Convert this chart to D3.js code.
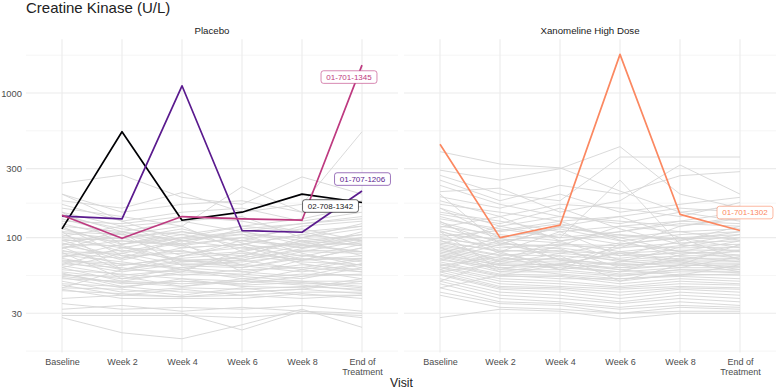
<!DOCTYPE html>
<html><head><meta charset="utf-8">
<script src="https://cdn.jsdelivr.net/npm/d3@7"></script>
<style>body{margin:0;background:#fff;} text{font-family:"Liberation Sans",Arial,sans-serif;}</style>
</head><body>
<script>
// ---------- DATA ----------
const visits = ["Baseline","Week 2","Week 4","Week 6","Week 8","End of Treatment"];
const visitTickLabels = [["Baseline"],["Week 2"],["Week 4"],["Week 6"],["Week 8"],["End of","Treatment"]];
const yBreaks = [30,100,300,1000];
const arms = ["Placebo","Xanomeline High Dose"];

const placeboGray = [
 [238,271,190,170,263,200],[200,150,170,180,150,175],[180,160,205,150,170,540],[170,130,150,160,130,150],
 [160,140,120,225,150,180],[150,120,130,110,125,140],[140,115,105,120,135,165],[130,125,140,130,110,120],
 [125,100,110,95,120,130],[120,110,95,105,100,115],[115,90,100,110,95,105],[110,105,85,90,105,95],
 [105,80,95,85,90,100],[100,95,90,100,85,110],[98,85,80,75,95,88],[95,100,75,80,70,85],
 [92,70,85,90,80,78],[90,88,70,72,88,92],[88,75,78,85,75,70],[85,95,88,70,82,80],
 [82,65,72,78,70,75],[80,78,65,68,76,68],[78,72,82,65,62,72],[76,68,60,75,68,65],
 [74,82,70,62,72,62],[72,60,68,70,60,70],[70,66,62,58,65,60],[68,58,66,64,58,66],
 [66,62,55,60,62,58],[64,55,60,52,56,55],[62,50,58,56,52,62],[60,56,52,50,60,52],
 [58,52,56,54,50,50],[56,48,50,48,54,56],[55,54,46,52,48,48],[53,45,52,46,45,52],
 [52,50,48,50,50,46],[50,42,45,44,46,44],[48,46,42,42,44,50],[47,40,44,40,42,42],
 [45,44,40,45,40,40],[44,38,38,38,41,38],[43,41,39,40,38,40],[57,46,50,47,49,45],
 [38,40,39,42,44,41],[54,49,46,50,47,43],[35,32,33,32,34,31],[32,34,31,33,31,30],
 [30,30,30,23,31,28],[28,22,20,25,32,24],[29,29,29,28,30,29],[110,60,75,90,105,120],
 [150,90,110,95,85,100],[65,85,100,120,110,90],[90,110,130,140,100,125],[45,60,70,65,80,95],
 [120,75,60,55,70,85],[200,130,95,110,90,80],
 [135,105,120,80,95,75],[102,120,90,115,125,135],[86,60,58,82,92,105],[73,90,105,88,66,58],
 [118,86,68,74,100,88],[62,78,92,58,54,66],[96,72,98,106,78,64],[145,110,88,100,115,95],
 [79,52,62,70,84,98],[108,98,115,92,70,72],[69,64,74,96,88,80],[84,108,64,62,74,90]
];
const xanoGray = [
 [393,323,304,210,150,130],[293,250,300,426,200,160],[270,200,180,361,361,361],[250,180,230,200,268,286],
 [208,220,150,180,318,200],[192,160,200,150,170,190],[180,140,170,160,140,175],[170,150,130,140,160,150],
 [160,120,140,130,120,140],[150,130,110,120,130,125],[140,110,125,100,110,115],[135,115,100,110,125,120],
 [128,100,115,95,105,110],[120,105,95,105,98,100],[115,95,105,90,100,105],[110,90,88,85,92,95],
 [105,98,92,80,88,90],[100,85,90,88,85,86],[98,88,80,78,82,82],[95,80,85,75,78,80],
 [92,82,78,72,80,76],[90,76,75,70,75,75],[88,75,82,68,72,72],[86,72,70,66,70,70],
 [84,70,72,64,68,68],[82,68,68,65,66,66],[80,66,65,62,64,65],[78,64,66,60,65,63],
 [76,65,62,58,62,62],[75,62,64,56,60,60],[74,60,60,55,58,58],[72,58,58,54,60,57],
 [70,62,56,52,55,56],[68,56,55,50,56,55],[66,55,52,52,54,52],[65,54,54,48,52,50],
 [63,52,50,46,50,48],[62,50,48,45,48,47],[60,48,46,44,46,45],[58,46,45,42,45,44],
 [56,45,44,40,44,42],[55,44,42,38,42,40],[52,42,40,36,40,38],[50,40,38,35,38,36],
 [48,38,36,33,36,34],[45,36,35,32,34,33],[42,35,34,30,33,32],[40,33,32,30,31,31],
 [28,32,31,27.5,30,30],[130,80,60,90,100,70],[70,90,120,140,100,85],[110,60,75,50,65,90],
 [50,70,95,110,130,150],[160,100,70,60,55,65],[90,120,100,250,90,80],[60,80,110,75,95,120],
 [45,55,65,80,70,60],[200,90,120,100,80,95],
 [145,125,160,115,90,105],[118,140,95,70,62,74],[96,68,88,120,110,96],[74,95,70,85,120,135],
 [86,58,66,78,68,58],[102,112,130,96,74,68],[64,74,60,68,86,100],[125,92,84,62,70,82],
 [230,170,140,125,150,165],[58,66,78,92,80,72],[112,78,64,58,76,88],[78,100,118,104,96,110]
];
const placeboHiIds = ["02-708-1342","01-707-1206","01-701-1345"];
const placeboHiValues = [
 [115,540,132,150,200,175],
 [141,135,1122,112,109,210],
 [143,99,140,135,132,1560]
];
const xanoHiIds = ["01-701-1302"];
const xanoHiValues = [
 [442,100,122,1850,145,112]
];

// ---------- LAYOUT / STYLE ----------
const W = 777, H = 389;
const colors = {"02-708-1342":"#000004","01-707-1206":"#5A1A8E","01-701-1345":"#BE3A80","01-701-1302":"#FB8861"};
const textColors = {"02-708-1342":"#1a1a1a","01-707-1206":"#5A1A8E","01-701-1345":"#BE3A80","01-701-1302":"#FB8861"};
const labelOffsets = {"01-701-1345":[-13,12],"01-707-1206":[0.5,-12],"02-708-1342":[-31.5,3.5],"01-701-1302":[5,-18]};
const panelTop = 39.2, panelBottom = 352.4;
const panels = [
  {name:arms[0], x0:26, x1:398, gray:placeboGray, ids:placeboHiIds, vals:placeboHiValues},
  {name:arms[1], x0:404, x1:776, gray:xanoGray, ids:xanoHiIds, vals:xanoHiValues}
];

const svg = d3.select("body").append("svg").attr("width",W).attr("height",H);
const y = d3.scaleLog().domain([16.1,2355]).range([panelBottom,panelTop]);

// minor breaks: midpoints in log space (ggplot style, extended one step)
const lb = yBreaks.map(Math.log10);
const ext = [lb[0]-(lb[1]-lb[0]), ...lb, lb[lb.length-1]+(lb[lb.length-1]-lb[lb.length-2])];
const minor = [];
for (let i=0;i<ext.length-1;i++){ const m = Math.pow(10,(ext[i]+ext[i+1])/2); if (y(m)>=panelTop-0.5 && y(m)<=panelBottom+0.5) minor.push(m); }

svg.append("text").attr("x",26).attr("y",13).attr("font-size",15).attr("fill","#222").text("Creatine Kinase (U/L)");

panels.forEach((p,pi)=>{
  const x = d3.scalePoint().domain(visits).range([p.x0,p.x1]).padding(0.6);
  const g = svg.append("g");
  g.selectAll(".minor").data(minor).join("line")
    .attr("x1",p.x0).attr("x2",p.x1).attr("y1",d=>y(d)).attr("y2",d=>y(d))
    .attr("stroke","#eeeeee").attr("stroke-width",0.6);
  g.selectAll(".major").data(yBreaks).join("line")
    .attr("x1",p.x0).attr("x2",p.x1).attr("y1",d=>y(d)).attr("y2",d=>y(d))
    .attr("stroke","#ebebeb").attr("stroke-width",1.1);
  g.selectAll(".vg").data(visits).join("line")
    .attr("x1",d=>x(d)).attr("x2",d=>x(d)).attr("y1",panelTop).attr("y2",panelBottom)
    .attr("stroke","#ebebeb").attr("stroke-width",1.1);
  g.append("text").attr("x",(p.x0+p.x1)/2).attr("y",34).attr("text-anchor","middle")
    .attr("font-size",9.7).attr("fill","#1a1a1a").text(p.name);

  const line = d3.line().x((d,i)=>x(visits[i])).y(d=>y(d));
  g.selectAll(".gray").data(p.gray).join("path")
    .attr("d",line).attr("fill","none").attr("stroke","#d6d6d6").attr("stroke-width",1).attr("stroke-opacity",0.9);
  p.vals.forEach((v,i)=>{
    g.append("path").datum(v).attr("d",line).attr("fill","none")
      .attr("stroke",colors[p.ids[i]]).attr("stroke-width",1.7).attr("stroke-linejoin","round");
  });
  p.vals.forEach((v,i)=>{
    const id = p.ids[i];
    const off = labelOffsets[id];
    const cx = x(visits[visits.length-1]) + off[0];
    const cy = y(v[v.length-1]) + off[1];
    const lg = g.append("g");
    const t = lg.append("text").attr("x",cx).attr("y",cy+2.9).attr("text-anchor","middle")
      .attr("font-size",8).attr("fill",textColors[id]).text(id);
    const bb = t.node().getBBox();
    lg.insert("rect","text").attr("x",cx-bb.width/2-5).attr("y",cy-6.3).attr("width",bb.width+10).attr("height",12.6)
      .attr("rx",2.5).attr("fill","#fff").attr("stroke",colors[id]).attr("stroke-width",0.6);
  });

  const xa = g.append("g").attr("transform",`translate(0,${panelBottom})`)
    .call(d3.axisBottom(x).tickSize(0).tickPadding(6.5).tickFormat(()=>""));
  xa.select(".domain").remove();
  xa.selectAll(".tick text").each(function(d){
    const t = d3.select(this).attr("font-size",9).attr("fill","#4d4d4d").attr("font-family",null);
    const lines = visitTickLabels[visits.indexOf(d)];
    lines.forEach((s,k)=>t.append("tspan").attr("x",0).attr("dy",k===0?"0.71em":"1.1em").text(s));
  });

  if (pi===0){
    const ya = g.append("g").attr("transform",`translate(${p.x0},0)`)
      .call(d3.axisLeft(y).tickValues(yBreaks).tickFormat(d3.format("d")).tickSize(0).tickPadding(4));
    ya.select(".domain").remove();
    ya.selectAll(".tick text").attr("font-size",9.4).attr("fill","#4d4d4d").attr("font-family",null);
  }
});

svg.append("text").attr("x",401.5).attr("y",387).attr("text-anchor","middle")
  .attr("font-size",12.2).attr("fill","#222").text("Visit");
</script>
</body></html>
